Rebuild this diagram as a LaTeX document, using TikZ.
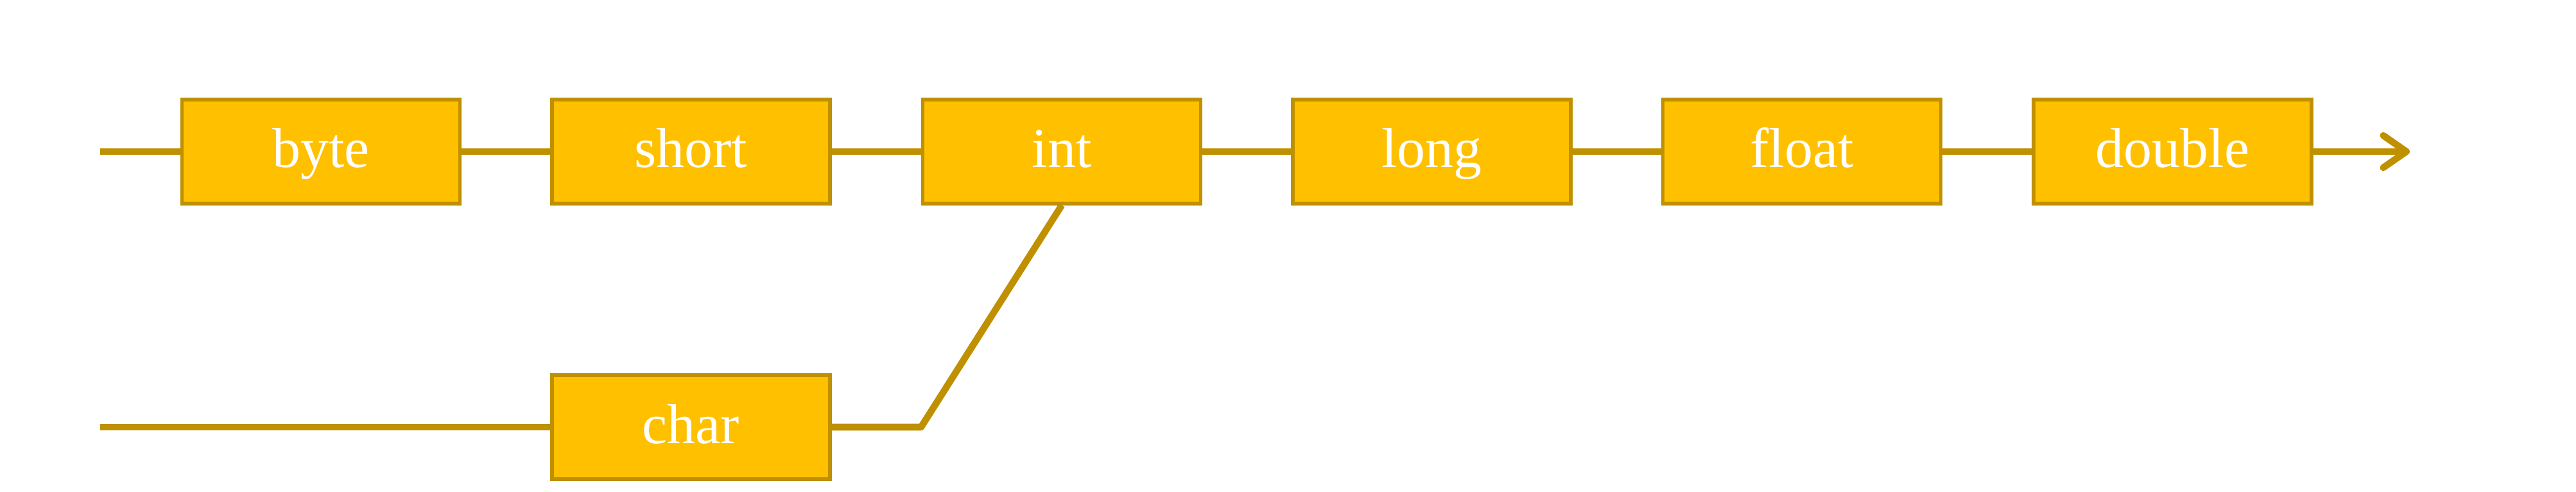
\documentclass[tikz,border=0pt]{standalone}
\usepackage{fontspec}
\setmainfont{Liberation Serif}
\usetikzlibrary{arrows.meta}
\definecolor{boxfill}{HTML}{FFC000}
\definecolor{boxline}{HTML}{BF9000}
\begin{document}
\begin{tikzpicture}[
  typebox/.style={draw=boxline, fill=boxfill, line width=1.5pt, minimum width=4.33cm, minimum height=1.62cm, inner sep=0pt, text height=0.5cm, text depth=0pt, text=white, font=\fontsize{25}{28}\selectfont},
  conn/.style={draw=boxline, line width=3pt}
]
\useasboundingbox (0,0) rectangle (40.13,7.65);
\coordinate (start1) at (1.56,5.29);
\coordinate (start2) at (1.56,1.0);
\coordinate (endA) at (37.54,5.29);
\node[typebox] (byte) at (5.00,5.29) {byte};
\node[typebox] (short) at (10.765,5.29) {short};
\node[typebox] (int) at (16.54,5.29) {int};
\node[typebox] (long) at (22.305,5.29) {long};
\node[typebox] (float) at (28.07,5.29) {float};
\node[typebox] (double) at (33.845,5.29) {double};
\node[typebox] (char) at (10.765,1.0) {char};
\coordinate (corner) at (int.west |- char.east);
\draw[conn] (start1) -- (byte);
\draw[conn] (byte) -- (short);
\draw[conn] (short) -- (int);
\draw[conn] (int) -- (long);
\draw[conn] (long) -- (float);
\draw[conn] (float) -- (double);
\draw[conn, -{Straight Barb[length=3.6mm,width=5mm,round]}] (double) -- (endA);
\draw[conn] (start2) -- (char);
\draw[conn, line join=round] (char) -- (corner) -- (int.south);
\end{tikzpicture}
\end{document}
